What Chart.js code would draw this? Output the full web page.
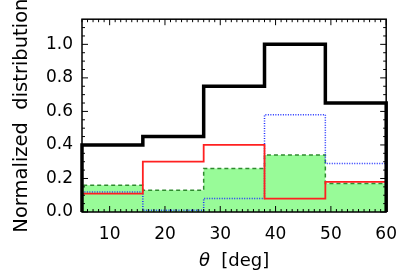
<!DOCTYPE html>
<html>
<head>
<meta charset="utf-8">
<script src="https://cdn.jsdelivr.net/npm/chart.js@4"></script>
<style>
body{margin:0;background:#fff;}
#wrap{width:409px;height:273px;}
</style>
</head>
<body>
<div id="wrap"><canvas id="histChart"></canvas></div>
<script>
// bin edges in theta (deg) and normalized heights per bin
const binEdges=[5,16,27,38,49,60];
const totalVals=[0.40,0.45,0.75,1.00,0.65];
const redVals=[0.11,0.30,0.40,0.08,0.18];
const blueVals=[0.12,0.01,0.08,0.58,0.29];
const greenVals=[0.16,0.13,0.26,0.34,0.17];
const xTicks=[10,20,30,40,50,60];
const yTicks=[0.0,0.2,0.4,0.6,0.8,1.0];

Chart.defaults.font.family="DejaVu Sans";
Chart.defaults.color="#000";

// turn bin values into a closed step outline
function steps(vals){
const pts=[{x:binEdges[0],y:0}];
for(let i=0;i<vals.length;i++){
pts.push({x:binEdges[i],y:vals[i]});
pts.push({x:binEdges[i+1],y:vals[i]});
}
pts.push({x:binEdges[binEdges.length-1],y:0});
return pts;
}

const inwardTicks={
id:"inwardTicks",
afterDraw(chart){
const ctx=chart.ctx, a=chart.chartArea;
const xs=chart.scales.x, ys=chart.scales.y;
ctx.save();
ctx.strokeStyle="#000";
ctx.lineWidth=1;
ctx.beginPath();
for(let v=xs.min;v<=xs.max;v++){
const px=xs.getPixelForValue(v);
const len=(v%10===0)?6:3;
ctx.moveTo(px,a.bottom);ctx.lineTo(px,a.bottom-len);
ctx.moveTo(px,a.top);ctx.lineTo(px,a.top+len);
}
for(let k=0;k*0.05<=ys.max;k++){
const py=ys.getPixelForValue(k*0.05);
const len=(k%4===0)?6:3;
ctx.moveTo(a.left,py);ctx.lineTo(a.left+len,py);
ctx.moveTo(a.right,py);ctx.lineTo(a.right-len,py);
}
ctx.stroke();
ctx.lineWidth=1.5;
ctx.strokeRect(a.left,a.top,a.right-a.left,a.bottom-a.top);

// x axis title with italic theta
const t1="θ", t2="  [deg]";
ctx.fillStyle="#000";
ctx.textBaseline="middle";
ctx.font="italic 18px 'DejaVu Sans'";
const w1=ctx.measureText(t1).width;
ctx.font="18px 'DejaVu Sans'";
const w2=ctx.measureText(t2).width;
const cx=(a.left+a.right)/2;
let x0=cx-(w1+w2)/2;
ctx.textAlign="left";
ctx.font="italic 18px 'DejaVu Sans'";
ctx.fillText(t1,x0,261);
ctx.font="18px 'DejaVu Sans'";
ctx.fillText(t2,x0+w1,261);
ctx.restore();
}
};

new Chart(
document.getElementById("histChart"),
{
type:"line",
data:{
datasets:[
{
label:"all",
data:steps(totalVals),
borderColor:"#000",
borderWidth:3.5,
pointRadius:0,
fill:false,
clip:6,
order:0
},
{
label:"red",
data:steps(redVals),
borderColor:"#ff2020",
borderWidth:1.8,
pointRadius:0,
fill:false,
clip:6,
order:1
},
{
label:"blue",
data:steps(blueVals),
borderColor:"#2030ff",
borderWidth:1.5,
borderDash:[1,1.5],
pointRadius:0,
fill:false,
clip:6,
order:2
},
{
label:"green",
data:steps(greenVals),
borderColor:"#2e8b2e",
backgroundColor:"#98fb98",
borderWidth:1.5,
borderDash:[4,3],
pointRadius:0,
fill:"origin",
clip:6,
order:3
}
]
},
options:{
responsive:true,
maintainAspectRatio:false,
animation:false,
layout:{padding:{top:10,right:21,left:0,bottom:0}},
plugins:{legend:{display:false},tooltip:{enabled:false}},
scales:{
x:{
type:"linear",
min:5,
max:60,
grid:{display:false,drawTicks:false},
border:{display:false},
afterBuildTicks:(s)=>{s.ticks=xTicks.map(v=>({value:v}));},
afterFit:(s)=>{s.height=61;},
ticks:{padding:12,font:{size:17},maxRotation:0}
},
y:{
min:0,
max:1.15,
grid:{display:false,drawTicks:false},
border:{display:false},
afterBuildTicks:(s)=>{s.ticks=yTicks.map(v=>({value:v}));},
afterFit:(s)=>{s.width=82;},
ticks:{padding:9,font:{size:17},callback:(v)=>v.toFixed(1)},
title:{display:true,text:"Normalized  distribution",font:{size:19.5},padding:{top:10,bottom:0}}
}
}
},
plugins:[inwardTicks]
});
</script>
</body>
</html>
